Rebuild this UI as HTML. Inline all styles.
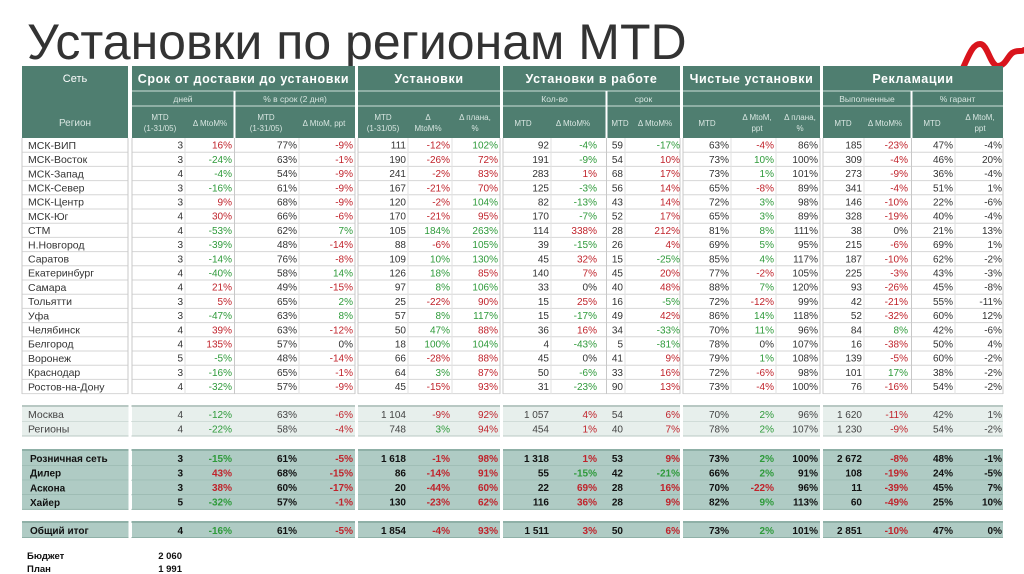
<!DOCTYPE html>
<html><head><meta charset="utf-8"><style>
body{margin:0;background:#fff;width:1024px;height:574px;overflow:hidden;font-family:"Liberation Sans",sans-serif}
svg{display:block}
</style></head><body>
<svg id="s" width="1024" height="574" xmlns="http://www.w3.org/2000/svg" font-family="Liberation Sans, sans-serif">
<text x="27" y="59" font-size="50" fill="#333">Установки по регионам MTD</text>
<path d="M962,70 C968,58 972,44 980,44 C988,44 990,66 998,66 C1006,66 1008,54 1014,52 C1018,50 1022,52 1024,50" stroke="#d9141c" stroke-width="6" fill="none" stroke-linecap="round"/>
<g id="hdr"></g><g id="body"></g>
<text x="27" y="559" font-size="9.5" font-weight="bold" fill="#111">Бюджет</text>
<text x="182" y="559" font-size="9.5" font-weight="bold" fill="#111" text-anchor="end">2 060</text>
<text x="27" y="572" font-size="9.5" font-weight="bold" fill="#111">План</text>
<text x="182" y="572" font-size="9.5" font-weight="bold" fill="#111" text-anchor="end">1 991</text>
</svg>
<script>
const regions=["МСК-ВИП","МСК-Восток","МСК-Запад","МСК-Север","МСК-Центр","МСК-Юг","СТМ","Н.Новгород","Саратов","Екатеринбург","Самара","Тольятти","Уфа","Челябинск","Белгород","Воронеж","Краснодар","Ростов-на-Дону"];
const regionValues=[
"3|16%r|77%|-9%r|111|-12%r|102%g|92|-4%g|59|-17%g|63%|-4%r|86%|185|-23%r|47%|-4%",
"3|-24%g|63%|-1%r|190|-26%r|72%r|191|-9%g|54|10%r|73%|10%g|100%|309|-4%r|46%|20%",
"4|-4%g|54%|-9%r|241|-2%r|83%r|283|1%r|68|17%r|73%|1%g|101%|273|-9%r|36%|-4%",
"3|-16%g|61%|-9%r|167|-21%r|70%r|125|-3%g|56|14%r|65%|-8%r|89%|341|-4%r|51%|1%",
"3|9%r|68%|-9%r|120|-2%r|104%g|82|-13%g|43|14%r|72%|3%g|98%|146|-10%r|22%|-6%",
"4|30%r|66%|-6%r|170|-21%r|95%r|170|-7%g|52|17%r|65%|3%g|89%|328|-19%r|40%|-4%",
"4|-53%g|62%|7%g|105|184%g|263%g|114|338%r|28|212%r|81%|8%g|111%|38|0%|21%|13%",
"3|-39%g|48%|-14%r|88|-6%r|105%g|39|-15%g|26|4%r|69%|5%g|95%|215|-6%r|69%|1%",
"3|-14%g|76%|-8%r|109|10%g|130%g|45|32%r|15|-25%g|85%|4%g|117%|187|-10%r|62%|-2%",
"4|-40%g|58%|14%g|126|18%g|85%r|140|7%r|45|20%r|77%|-2%r|105%|225|-3%r|43%|-3%",
"4|21%r|49%|-15%r|97|8%g|106%g|33|0%|40|48%r|88%|7%g|120%|93|-26%r|45%|-8%",
"3|5%r|65%|2%g|25|-22%r|90%r|15|25%r|16|-5%g|72%|-12%r|99%|42|-21%r|55%|-11%",
"3|-47%g|63%|8%g|57|8%g|117%g|15|-17%g|49|42%r|86%|14%g|118%|52|-32%r|60%|12%",
"4|39%r|63%|-12%r|50|47%g|88%r|36|16%r|34|-33%g|70%|11%g|96%|84|8%g|42%|-6%",
"4|135%r|57%|0%|18|100%g|104%g|4|-43%g|5|-81%g|78%|0%|107%|16|-38%r|50%|4%",
"5|-5%g|48%|-14%r|66|-28%r|88%r|45|0%|41|9%r|79%|1%g|108%|139|-5%r|60%|-2%",
"3|-16%g|65%|-1%r|64|3%g|87%r|50|-6%g|33|16%r|72%|-6%r|98%|101|17%g|38%|-2%",
"4|-32%g|57%|-9%r|45|-15%r|93%r|31|-23%g|90|13%r|73%|-4%r|100%|76|-16%r|54%|-2%"];
const areas=["Москва","Регионы"];
const areaValues=[
"4|-12%g|63%|-6%r|1 104|-9%r|92%r|1 057|4%r|54|6%r|70%|2%g|96%|1 620|-11%r|42%|1%",
"4|-22%g|58%|-4%r|748|3%g|94%r|454|1%r|40|7%r|78%|2%g|107%|1 230|-9%r|54%|-2%"];
const channels=["Розничная сеть","Дилер","Аскона","Хайер"];
const channelValues=[
"3|-15%g|61%|-5%r|1 618|-1%r|98%r|1 318|1%r|53|9%r|73%|2%g|100%|2 672|-8%r|48%|-1%",
"3|43%r|68%|-15%r|86|-14%r|91%r|55|-15%g|42|-21%g|66%|2%g|91%|108|-19%r|24%|-5%",
"3|38%r|60%|-17%r|20|-44%r|60%r|22|69%r|28|16%r|70%|-22%r|96%|11|-39%r|45%|7%",
"5|-32%g|57%|-1%r|130|-23%r|62%r|116|36%r|28|9%r|82%|9%g|113%|60|-49%r|25%|10%"];
const totalLabel=["Общий итог"];
const totalValues=["4|-16%g|61%|-5%r|1 854|-4%r|93%r|1 511|3%r|50|6%r|73%|2%g|101%|2 851|-10%r|47%|0%"];

const NS="http://www.w3.org/2000/svg";
const hdr=document.getElementById('hdr'),body=document.getElementById('body');
const GREEN="#4f7e70";
function mk(tag,at,par,txt){const e=document.createElementNS(NS,tag);for(const k in at)e.setAttribute(k,at[k]);if(txt!==undefined)e.textContent=txt;par.appendChild(e);return e;}
const colR=[183,232,297,353,406,450,498,549,597,623,680,729,774,818,862,908,953,1002];
const groups=[[22,128,"Сеть"],[132,355,"Срок от доставки до установки"],[358,500,"Установки"],[503,680,"Установки в работе"],[683,820,"Чистые установки"],[823,1003,"Рекламации"]];
groups.forEach((g,i)=>{
 const r=mk('rect',{x:g[0],y:66,width:g[1]-g[0],height:72,fill:GREEN},hdr);
 
 const t=mk('text',{x:(g[0]+g[1])/2,y:i==0?82:83,'font-size':i==0?11:12.5,'font-weight':i==0?'normal':'bold','fill':'#fff','text-anchor':'middle','letter-spacing':i==0?0:0.6},hdr,g[2]);
 
 if(i>0){mk('line',{x1:g[0],x2:g[1],y1:91,y2:91,stroke:'#cfe0da','stroke-width':1},hdr);mk('line',{x1:g[0],x2:g[1],y1:106,y2:106,stroke:'#cfe0da','stroke-width':1},hdr);}
});
[[132,234,"дней"],[235,355,"% в срок (2 дня)"],[503,606,"Кол-во"],[607,680,"срок"],[823,911,"Выполненные"],[912,1003,"% гарант"]].forEach(s=>{
 const t=mk('text',{x:(s[0]+s[1])/2,y:102,'font-size':8.5,fill:'#d8e6e1','text-anchor':'middle'},hdr,s[2]);
 
});
[234.5,606.5,911.5].forEach(x=>mk('line',{x1:x,x2:x,y1:91,y2:138,stroke:'#fff','stroke-width':2},hdr));
const sub=[[75,"Регион"],[160,"MTD|(1-31/05)"],[210,"Δ MtoM%"],[266,"MTD|(1-31/05)"],[324,"Δ MtoM, ppt"],[383,"MTD|(1-31/05)"],[428,"Δ|MtoM%"],[475,"Δ плана,|%"],[523,"MTD"],[573,"Δ MtoM%"],[620,"MTD"],[655,"Δ MtoM%"],[707,"MTD"],[757,"Δ MtoM,|ppt"],[800,"Δ плана,|%"],[843,"MTD"],[885,"Δ MtoM%"],[932,"MTD"],[980,"Δ MtoM,|ppt"]];
sub.forEach(s=>{const p=s[1].split('|');p.forEach((l,j)=>{const y=p.length==1?126:120+j*11;const t=mk('text',{x:s[0],y:y,'font-size':s[0]==75?10:8,fill:'#d8e6e1','text-anchor':'middle'},hdr,l);});});

const RED="#c0232b",GRN="#2e9a3a";
function row(label,vals,y,h,opt){
 const g=mk('g',{},body);
 if(opt.bg){groups.forEach(gr=>mk('rect',{x:gr[0],y:y,width:gr[1]-gr[0]+(gr[0]==22?3:0),height:h,fill:opt.bg},g));}
 mk('line',{x1:22,x2:1003,y1:y+h,y2:y+h,stroke:opt.line,'stroke-width':1},g);
 const tl=mk('text',{x:opt.bold?30:28,y:y+h/2+3.8,'font-size':opt.bold?10:10.5,'font-weight':opt.bold?'bold':'normal',fill:opt.fg},g,label);
 
 vals.split('|').forEach((v,i)=>{let c=opt.fg,s=v;const e=v.slice(-1);if(e=='r'){c=RED;s=v.slice(0,-1);}else if(e=='g'){c=GRN;s=v.slice(0,-1);}
  const t=mk('text',{x:colR[i],y:y+h/2+3.6,'font-size':10,'font-weight':opt.bold?'bold':'normal',fill:c,'text-anchor':'end'},g,s);
  });
}
const rh=14.2;
regions.forEach((r,i)=>row(r,regionValues[i],138+i*rh,rh,{fg:'#333',line:'#d6d6d6'}));
mk('line',{x1:22,x2:1003,y1:406,y2:406,stroke:'#b8c8c3','stroke-width':2},body);
areas.forEach((r,i)=>row(r,areaValues[i],407+i*14.5,14.5,{fg:'#444',line:'#b8c8c3',bg:'#e7efec'}));
mk('line',{x1:22,x2:1003,y1:450,y2:450,stroke:'#8fb0a7','stroke-width':2},body);
channels.forEach((r,i)=>row(r,channelValues[i],451+i*14.6,14.6,{fg:'#111',line:'#8fb0a7',bg:'#afcbc4',bold:true}));
mk('line',{x1:22,x2:1003,y1:522,y2:522,stroke:'#8fb0a7','stroke-width':2},body);
totalLabel.forEach((r,i)=>row(r,totalValues[i],523,14.5,{fg:'#111',line:'#8fb0a7',bg:'#afcbc4',bold:true}));
[[130,'#fff',3],[356.5,'#fff',3],[501.5,'#fff',3],[681.5,'#fff',3],[821.5,'#fff',3]].forEach(v=>mk('line',{x1:v[0],x2:v[0],y1:138,y2:538,stroke:v[1],'stroke-width':v[2]},body));
[[128,'#c8c8c8'],[132,'#c8c8c8'],[234.5,'#c8c8c8'],[355,'#c8c8c8'],[358,'#c8c8c8'],[500,'#c8c8c8'],[503,'#c8c8c8'],[606.5,'#c8c8c8'],[680,'#c8c8c8'],[683,'#c8c8c8'],[820,'#c8c8c8'],[823,'#c8c8c8'],[911.5,'#c8c8c8'],[1003,'#c8c8c8'],[22,'#c8c8c8'],[185,'#e2e2e2'],[299,'#e2e2e2'],[408,'#e2e2e2'],[452,'#e2e2e2'],[551,'#e2e2e2'],[625,'#e2e2e2'],[731,'#e2e2e2'],[776,'#e2e2e2'],[864,'#e2e2e2'],[955,'#e2e2e2']].forEach(v=>mk('line',{x1:v[0],x2:v[0],y1:138,y2:394,stroke:v[1],'stroke-width':1},body));
</script>
</body></html>
